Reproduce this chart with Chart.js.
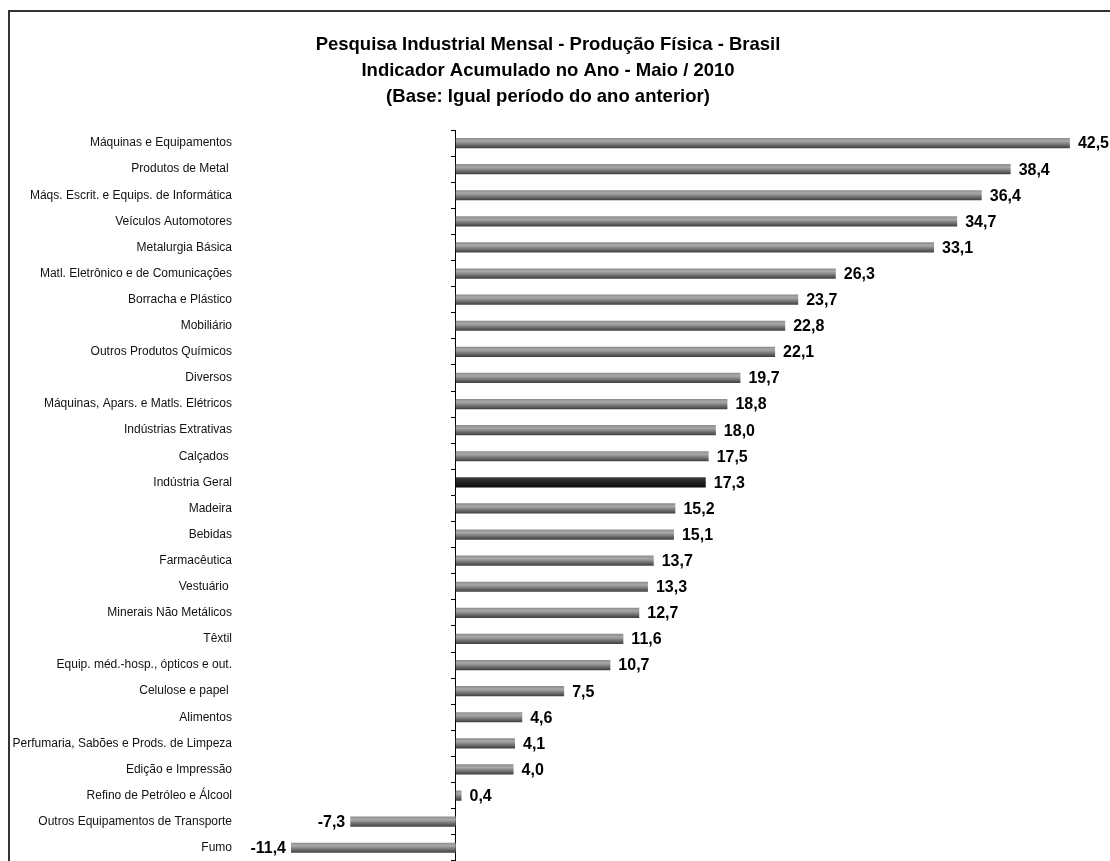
<!DOCTYPE html>
<html>
<head>
<meta charset="utf-8">
<script src="https://cdn.jsdelivr.net/npm/chart.js@4"></script>
<style>
  html, body { margin: 0; padding: 0; background: #fff; overflow: hidden; }
  body { width: 1110px; height: 861px; position: relative; }
  .frame { position: absolute; left: 8px; top: 10px; width: 1200px; height: 900px; border: 2px solid #333; box-sizing: border-box; }
  .chart-wrap { position: absolute; left: 0; top: 0; width: 1140px; height: 875px; }
</style>
</head>
<body>
<div class="frame"></div>
<div class="chart-wrap"><canvas id="chart"></canvas></div>
<script>
const titleLines = [
  'Pesquisa Industrial Mensal - Produção Física - Brasil',
  'Indicador Acumulado no Ano - Maio / 2010',
  '(Base: Igual período do ano anterior)'
];

const categories = [
  'Máquinas e Equipamentos',
  'Produtos de Metal ',
  'Máqs. Escrit. e Equips. de Informática',
  'Veículos Automotores',
  'Metalurgia Básica',
  'Matl. Eletrônico e de Comunicações',
  'Borracha e Plástico',
  'Mobiliário',
  'Outros Produtos Químicos',
  'Diversos',
  'Máquinas, Apars. e Matls. Elétricos',
  'Indústrias Extrativas',
  'Calçados ',
  'Indústria Geral',
  'Madeira',
  'Bebidas',
  'Farmacêutica',
  'Vestuário ',
  'Minerais Não Metálicos',
  'Têxtil',
  'Equip. méd.-hosp., ópticos e out.',
  'Celulose e papel ',
  'Alimentos',
  'Perfumaria, Sabões e Prods. de Limpeza',
  'Edição e Impressão',
  'Refino de Petróleo e Álcool',
  'Outros Equipamentos de Transporte',
  'Fumo'
];

const values = [42.5, 38.4, 36.4, 34.7, 33.1, 26.3, 23.7, 22.8, 22.1, 19.7, 18.8, 18.0, 17.5, 17.3,
  15.2, 15.1, 13.7, 13.3, 12.7, 11.6, 10.7, 7.5, 4.6, 4.1, 4.0, 0.4, -7.3, -11.4];

const highlight = 'Indústria Geral';

const FONT = "'Liberation Sans', Arial, sans-serif";

function barFill(context) {
  const chart = context.chart;
  const area = chart.chartArea;
  if (!area) return '#808080';
  const yc = chart.scales.y.getPixelForValue(context.dataIndex);
  const g = chart.ctx.createLinearGradient(0, yc - 5, 0, yc + 5);
  if (categories[context.dataIndex] === highlight) {
    g.addColorStop(0, '#3c3c3c');
    g.addColorStop(0.4, '#262626');
    g.addColorStop(1, '#0a0a0a');
  } else {
    g.addColorStop(0, '#8c8c8c');
    g.addColorStop(0.3, '#a9a9a9');
    g.addColorStop(1, '#3e3e3e');
  }
  return g;
}

// value labels next to the bar ends
const valueLabels = {
  id: 'valueLabels',
  afterDatasetsDraw(chart) {
    const ctx = chart.ctx;
    const meta = chart.getDatasetMeta(0);
    ctx.save();
    ctx.font = 'bold 16px ' + FONT;
    ctx.fillStyle = '#000';
    ctx.textBaseline = 'middle';
    meta.data.forEach((bar, i) => {
      const v = values[i];
      const txt = v.toFixed(1).replace('.', ',');
      if (v >= 0) {
        ctx.textAlign = 'left';
        ctx.fillText(txt, bar.x + 8, bar.y + 1);
      } else {
        ctx.textAlign = 'right';
        ctx.fillText(txt, bar.x - 5, bar.y + 1);
      }
    });
    ctx.restore();
  }
};

new Chart(document.getElementById('chart'), {
  type: 'bar',
  data: {
    labels: categories,
    datasets: [{
      data: values,
      backgroundColor: barFill,
      borderWidth: 0,
      barPercentage: 0.39,
      categoryPercentage: 1
    }]
  },
  options: {
    indexAxis: 'y',
    responsive: true,
    maintainAspectRatio: false,
    animation: false,
    layout: { padding: { left: -10, right: 34, top: 0, bottom: 0 } },
    plugins: {
      legend: { display: false },
      tooltip: { enabled: false },
      title: {
        display: true,
        text: titleLines,
        color: '#000',
        font: { family: FONT, size: 18.5, weight: 'bold', lineHeight: 26 / 18.5 },
        padding: { top: 32, bottom: 20 }
      }
    },
    scales: {
      x: {
        display: false,
        min: -15,
        max: 45
      },
      y: {
        position: 'left',
        grid: { display: false, drawTicks: false },
        border: { display: false },
        afterFit(scale) { scale.width = 249; },
        ticks: {
          color: '#111',
          padding: 7,
          autoSkip: false,
          font: { family: FONT, size: 12 }
        }
      },
      y2: {
        type: 'category',
        labels: categories,
        position: { x: 0 },
        offset: true,
        ticks: { display: false },
        grid: {
          offset: true,
          drawOnChartArea: false,
          drawTicks: true,
          tickLength: 4,
          color: '#000'
        },
        border: { display: true, color: '#000', width: 1 }
      }
    }
  },
  plugins: [valueLabels]
});
</script>
</body>
</html>
